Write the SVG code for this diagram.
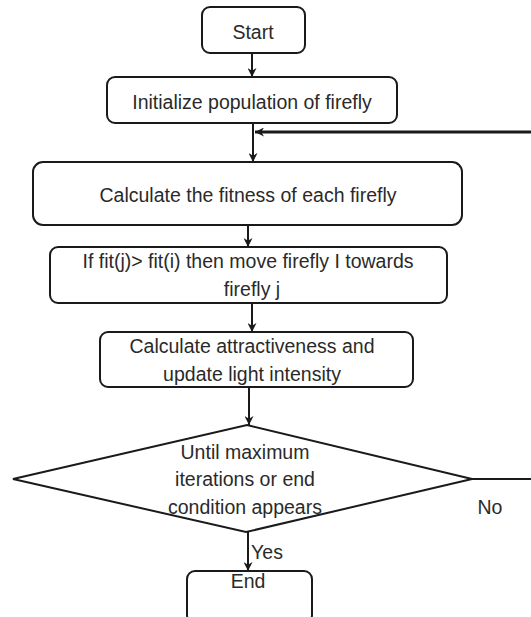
<svg xmlns="http://www.w3.org/2000/svg" width="531" height="617" viewBox="0 0 531 617">
<defs>
<style>
.box{fill:#fff;stroke:#1a1a1a;stroke-width:2}
.t{font-family:"Liberation Sans",Arial,sans-serif;font-size:19.5px;fill:#2a2a2a;text-anchor:middle}
.c{fill:none;stroke:#1a1a1a;stroke-width:2}
</style>
<marker id="ah" viewBox="0 0 10 10" refX="10" refY="5" markerWidth="9" markerHeight="9" markerUnits="userSpaceOnUse" orient="auto">
<path d="M0,0 L10,5 L0,10 L3,5 Z" fill="#1a1a1a"/>
</marker>
</defs>
<rect width="531" height="617" fill="#fff"/>
<g id="connectors">
<line class="c" x1="252" y1="53" x2="252" y2="77" marker-end="url(#ah)"/>
<line class="c" x1="253" y1="123" x2="253" y2="162" marker-end="url(#ah)"/>
<line class="c" x1="531" y1="132" x2="255" y2="132" style="stroke-width:3" marker-end="url(#ah)"/>
<line class="c" x1="248" y1="225" x2="248" y2="247" marker-end="url(#ah)"/>
<line class="c" x1="252" y1="303" x2="252" y2="332" marker-end="url(#ah)"/>
<line class="c" x1="249" y1="387" x2="249" y2="425" marker-end="url(#ah)"/>
<line class="c" x1="472" y1="479" x2="531" y2="479"/>
<line class="c" x1="248" y1="532" x2="248" y2="571" marker-end="url(#ah)"/>
<text class="t" x="490" y="514">No</text>
<text class="t" x="267" y="559">Yes</text>
</g>
<g id="start">
<rect class="box" x="202" y="7" width="103" height="46" rx="8"/>
<text class="t" x="253" y="39">Start</text>
</g>
<g id="init">
<rect class="box" x="107" y="77" width="290" height="46" rx="8"/>
<text class="t" x="252" y="109">Initialize population of firefly</text>
</g>
<g id="fitness">
<rect class="box" x="33" y="162" width="429" height="63" rx="10"/>
<text class="t" x="248" y="202">Calculate the fitness of each firefly</text>
</g>
<g id="move">
<rect class="box" x="50" y="247" width="397" height="56" rx="8"/>
<text class="t" x="248" y="268">If fit(j)&gt; fit(i) then move firefly I towards</text>
<text class="t" x="252" y="296">firefly j</text>
</g>
<g id="attract">
<rect class="box" x="100" y="332" width="313" height="55" rx="8"/>
<text class="t" x="252" y="353">Calculate attractiveness and</text>
<text class="t" x="252" y="381">update light intensity</text>
</g>
<g id="decision">
<polygon class="box" points="247,425 472,479 246,532 13,479"/>
<text class="t" x="245" y="459">Until maximum</text>
<text class="t" x="245" y="486">iterations or end</text>
<text class="t" x="245" y="514">condition appears</text>
</g>
<g id="end">
<rect class="box" x="187" y="571" width="125" height="52" rx="8"/>
<text class="t" x="248" y="588">End</text>
</g>
</svg>
